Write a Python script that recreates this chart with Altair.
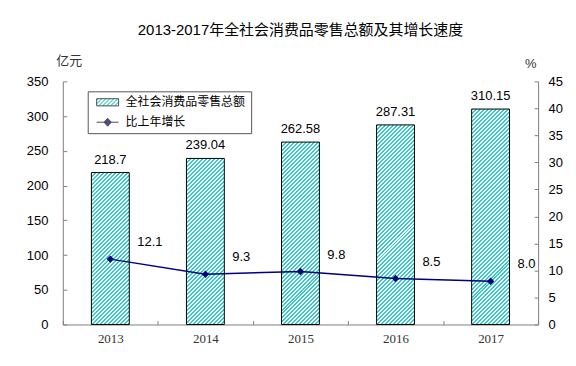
import json
import altair as alt
import pandas as pd

years = ["2013", "2014", "2015", "2016", "2017"]
sales = [218.7, 239.04, 262.58, 287.31, 310.15]
sales_labels = ["218.7", "239.04", "262.58", "287.31", "310.15"]
growth = [12.1, 9.3, 9.8, 8.5, 8.0]
growth_labels = ["12.1", "9.3", "9.8", "8.5", "8.0"]
series_names = ["全社会消费品零售总额", "比上年增长"]

df = pd.DataFrame({
    "year": years,
    "sales": sales,
    "sales_label": sales_labels,
    "growth": growth,
    "growth_label": growth_labels,
    "series": series_names[0],
})

CJK = "Liberation Sans, Noto Sans CJK SC, sans-serif"
STRIPE = "#33CCCC"
NAVY = "#000080"

PLOT_W, PLOT_H = 477, 244
Y_MAX = 350
BAR_W = 38


def stripes(w, h, period=4.0):
    """Diagonal '/' stripe fill as a bounding-box linear gradient for a w x h box."""
    L = w + h
    k = L / (w * w + h * h)
    stops = []
    n = int(L / period) + 1
    for i in range(n):
        t0 = min(i * period / L, 1)
        tm = min((i + 0.5) * period / L, 1)
        t1 = min((i + 1) * period / L, 1)
        stops += [
            {"offset": round(t0, 5), "color": STRIPE},
            {"offset": round(tm, 5), "color": STRIPE},
            {"offset": round(tm, 5), "color": "white"},
            {"offset": round(t1, 5), "color": "white"},
        ]
    return {"gradient": "linear", "x1": 0, "y1": 0, "x2": k * w, "y2": k * h, "stops": stops}


def hatch(value):
    return stripes(BAR_W, value / Y_MAX * PLOT_H)


legend_hatch = {"expr": json.dumps(stripes(22, 7.2))}

color_scale = alt.Scale(domain=series_names, range=[legend_hatch, NAVY])
shape_scale = alt.Scale(
    domain=series_names,
    range=[
        "M-2.75,-0.9H2.75V0.9H-2.75Z",
        "M-2.75,0H2.75M-0.9,0L0,-1L0.9,0L0,1Z",
    ],
)
legend = alt.Legend(
    title=None,
    orient="none",
    legendX=25,
    legendY=10,
    direction="vertical",
    strokeColor="#555555",
    fillColor="white",
    padding=5,
    symbolSize=64,
    symbolOffset=9,
    labelOffset=12,
    rowPadding=8,
    labelFont=CJK,
    labelFontSize=12,
    labelColor="black",
    symbolStrokeWidth=1,
)

x = alt.X(
    "year:N",
    title=None,
    scale=alt.Scale(paddingInner=0, paddingOuter=0),
    axis=alt.Axis(
        labelAngle=0,
        labelFont="Liberation Serif",
        labelFontSize=13,
        labelColor="#333333",
        labelPadding=12,
        tickBand="extent",
        tickSize={"expr": "-4"},
        tickColor="#808080",
        domainColor="#808080",
        grid=False,
    ),
)

yl = alt.Y(
    "sales:Q",
    scale=alt.Scale(domain=[0, Y_MAX]),
    axis=alt.Axis(
        orient="left",
        values=[0, 50, 100, 150, 200, 250, 300, 350],
        labelOverlap=False,
        title="亿元",
        titleAngle=0,
        titleX=6,
        titleY=-21,
        titleAlign="center",
        titleBaseline="middle",
        titleFont=CJK,
        titleFontSize=13,
        titleFontWeight="normal",
        titleColor="#333333",
        labelFont="Liberation Sans",
        labelFontSize=13,
        labelColor="black",
        labelPadding=19,
        tickSize={"expr": "-4"},
        tickColor="#808080",
        domainColor="#808080",
        grid=False,
    ),
)

base = alt.Chart(df)

bar_layers = [
    base.transform_filter(alt.datum.year == yr)
    .mark_bar(size=BAR_W, stroke="black", strokeWidth=1, fill=hatch(v))
    .encode(x=x, y=yl)
    for yr, v in zip(years, sales)
]

bar_text = base.mark_text(
    dy=-13, baseline="middle", font="Liberation Sans", fontSize=13, color="black"
).encode(x=x, y=yl, text="sales_label:N")

left = alt.layer(*bar_layers, bar_text)

yr_axis = alt.Y(
    "growth:Q",
    scale=alt.Scale(domain=[0, 45]),
    axis=alt.Axis(
        orient="right",
        values=[0, 5, 10, 15, 20, 25, 30, 35, 40, 45],
        labelOverlap=False,
        title="%",
        titleAngle=0,
        titleX=-8,
        titleY=-18,
        titleAlign="center",
        titleBaseline="middle",
        titleFont="Liberation Sans",
        titleFontSize=13,
        titleFontWeight="normal",
        titleColor="#333333",
        labelFont="Liberation Sans",
        labelFontSize=13,
        labelColor="black",
        labelPadding=14,
        tickSize={"expr": "-4"},
        tickColor="#808080",
        domainColor="#808080",
        grid=False,
    ),
)

line = base.mark_line(color=NAVY, strokeWidth=1.5).encode(x=x, y=yr_axis)
points = base.mark_point(shape="diamond", filled=True, size=55, color=NAVY, opacity=1).encode(
    x=x, y=yr_axis
)
line_text = base.mark_text(
    align="left", dx=27, dy=-17, baseline="middle", font="Liberation Sans", fontSize=13, color="black"
).encode(x=x, y=yr_axis, text="growth_label:N")

right = alt.layer(line, points, line_text)

dummy = base.mark_point(filled=True, stroke="black", strokeWidth=1).encode(
    color=alt.Color("series:N", scale=color_scale, legend=legend),
    shape=alt.Shape("series:N", scale=shape_scale, legend=legend),
).transform_filter("false")

chart = (
    alt.layer(left, right, dummy)
    .resolve_scale(y="independent")
    .properties(
        width=PLOT_W,
        height=PLOT_H,
        autosize=alt.AutoSizeParams(type="none"),
        padding={"left": 55, "top": 73, "right": 30, "bottom": 30},
        title=alt.TitleParams(
            "2013-2017年全社会消费品零售总额及其增长速度",
            font=CJK,
            fontSize=15,
            fontWeight="normal",
            color="black",
            anchor="middle",
            frame="group",
            offset=17,
        ),
    )
    .configure_view(stroke=None)
)

chart.save("out.html", embed_options={"renderer": "svg", "actions": False})
